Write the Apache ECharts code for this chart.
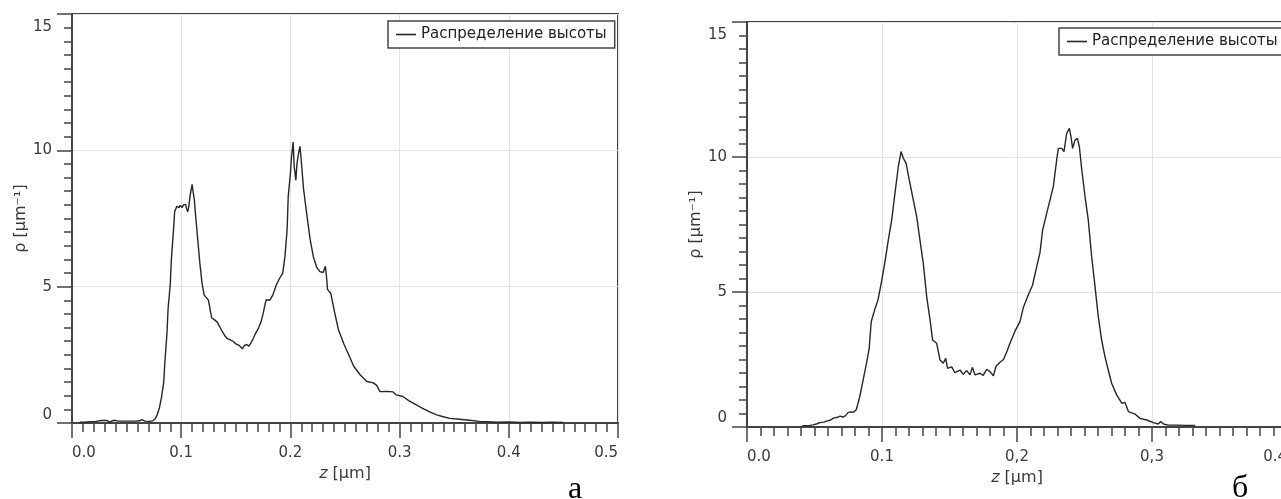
<!DOCTYPE html>
<html>
<head>
<meta charset="utf-8">
<script src="https://cdn.jsdelivr.net/npm/echarts@6/dist/echarts.min.js"></script>
<style>
html,body{margin:0;padding:0;background:#fff;}
#chart{width:1281px;height:499px;}
</style>
</head>
<body>
<div id="chart"></div>
<script>
// ---- data (a): height distribution, left panel ----
const zLeft = [0.007,0.012,0.017,0.022,0.027,0.032,0.035,0.038,0.043,0.048,0.053,0.058,0.062,0.064,0.067,0.071,0.074,0.076,0.078,0.080,0.082,0.084,0.085,0.087,0.088,0.090,0.091,0.093,0.094,0.096,0.098,0.099,0.101,0.102,0.104,0.105,0.106,0.107,0.108,0.110,0.111,0.112,0.113,0.115,0.117,0.119,0.121,0.123,0.125,0.127,0.128,0.130,0.133,0.135,0.137,0.140,0.142,0.145,0.148,0.150,0.153,0.156,0.158,0.160,0.162,0.164,0.166,0.168,0.171,0.173,0.175,0.177,0.178,0.181,0.184,0.187,0.190,0.193,0.195,0.197,0.198,0.200,0.201,0.2025,0.2035,0.205,0.206,0.2075,0.2088,0.210,0.212,0.215,0.218,0.221,0.224,0.227,0.230,0.232,0.233,0.234,0.237,0.240,0.244,0.249,0.254,0.258,0.264,0.270,0.276,0.279,0.282,0.288,0.294,0.297,0.303,0.309,0.315,0.321,0.328,0.334,0.340,0.346,0.355,0.364,0.373,0.380,0.390,0.400,0.410,0.420,0.430,0.440,0.450];
const rhoLeft = [0.03,0.03,0.05,0.06,0.09,0.09,0.04,0.10,0.07,0.07,0.07,0.07,0.08,0.12,0.07,0.06,0.08,0.15,0.30,0.55,0.95,1.5,2.2,3.3,4.2,5.1,6.0,7.1,7.75,7.95,7.9,7.98,7.9,8.0,8.02,7.85,7.75,7.95,8.3,8.75,8.45,8.2,7.7,6.8,5.9,5.15,4.7,4.6,4.5,4.05,3.85,3.8,3.7,3.55,3.4,3.2,3.1,3.05,2.98,2.9,2.85,2.72,2.85,2.88,2.82,2.95,3.1,3.28,3.5,3.7,4.0,4.4,4.52,4.5,4.7,5.05,5.3,5.5,6.1,7.1,8.3,9.15,9.75,10.3,9.4,8.9,9.5,9.9,10.15,9.6,8.6,7.65,6.75,6.1,5.72,5.55,5.52,5.75,5.4,4.9,4.75,4.15,3.42,2.9,2.45,2.08,1.76,1.52,1.47,1.38,1.15,1.16,1.14,1.03,0.97,0.80,0.67,0.54,0.40,0.30,0.23,0.17,0.14,0.10,0.06,0.05,0.03,0.04,0.02,0.03,0.02,0.03,0.02];

// ---- data (б): height distribution, right panel ----
const zRight = [0.040,0.042,0.046,0.049,0.052,0.054,0.057,0.059,0.062,0.064,0.067,0.069,0.071,0.073,0.075,0.077,0.079,0.081,0.0835,0.086,0.0885,0.0905,0.092,0.0945,0.097,0.0995,0.102,0.1047,0.1072,0.1096,0.1121,0.1141,0.1158,0.1178,0.1202,0.1232,0.1257,0.1281,0.1306,0.1331,0.1356,0.1375,0.1405,0.143,0.1454,0.1472,0.1486,0.1516,0.154,0.1578,0.1602,0.1627,0.1652,0.1669,0.1689,0.1726,0.175,0.1775,0.18,0.1825,0.1845,0.1874,0.19,0.1925,0.1948,0.1985,0.2022,0.2047,0.2084,0.2115,0.2146,0.217,0.219,0.222,0.2244,0.2269,0.2294,0.2306,0.2331,0.2348,0.2368,0.2388,0.24,0.2412,0.243,0.2447,0.2462,0.248,0.2504,0.2528,0.2553,0.2578,0.2602,0.2627,0.2652,0.2676,0.2701,0.2738,0.2776,0.28,0.2825,0.2874,0.2911,0.2961,0.301,0.3047,0.3064,0.3089,0.312,0.318,0.325,0.332];
const rhoRight = [0.0,0.05,0.05,0.08,0.12,0.16,0.18,0.22,0.26,0.33,0.36,0.40,0.37,0.42,0.54,0.56,0.55,0.65,1.12,1.74,2.36,2.9,3.9,4.33,4.7,5.35,6.06,6.93,7.67,8.66,9.64,10.2,9.95,9.77,9.15,8.4,7.79,6.93,6.06,4.83,3.96,3.22,3.1,2.48,2.36,2.54,2.17,2.23,2.01,2.11,1.95,2.09,1.93,2.21,1.93,1.99,1.91,2.14,2.05,1.9,2.25,2.4,2.5,2.8,3.1,3.55,3.9,4.43,4.9,5.25,5.94,6.45,7.3,7.91,8.4,8.9,9.89,10.32,10.32,10.2,10.88,11.06,10.75,10.32,10.63,10.69,10.38,9.52,8.53,7.67,6.31,5.2,4.09,3.22,2.6,2.11,1.62,1.19,0.88,0.91,0.57,0.48,0.32,0.26,0.16,0.11,0.2,0.1,0.07,0.07,0.06,0.06];

// ---- tick labels ----
const xTicksLeft = ['0.0','0.1','0.2','0.3','0.4','0.5'];
const xTicksRight = ['0.0','0.1','0,2','0,3','0.4'];
const seriesName = 'Распределение высоты';
const yAxisName = 'ρ [μm⁻¹]';
const panelLabels = ['а','б'];

const FONT = 'DejaVu Sans';
const AX = '#444';
const TXT = '#3a3a3a';

function zip(a, b){ return a.map((v,i)=>[v,b[i]]); }

function xAxisFor(gridIndex, max, labels, gap){
  return {
    type:'value', gridIndex, min:0, max, interval:0.1,
    axisLine:{show:true, onZero:false, lineStyle:{color:AX, width:2}},
    axisTick:{show:true, length:15, lineStyle:{color:AX, width:1.5}},
    minorTick:{show:true, splitNumber:10, length:9, lineStyle:{color:AX, width:1.5}},
    splitLine:{show:true, lineStyle:{color:'#e3e3e3', width:1}},
    axisLabel:{
      margin:23, color:TXT, fontFamily:FONT, fontSize:15,
      alignMinLabel:'left', alignMaxLabel:'right',
      formatter:(v)=>labels[Math.round(v*10)]
    },
    name:'{i|z} [μm]', nameLocation:'middle', nameGap:gap,
    nameTextStyle:{color:TXT, fontFamily:FONT, fontSize:16, verticalAlign:'top',
      rich:{i:{fontStyle:'italic', fontFamily:FONT, fontSize:16, color:TXT}}}
  };
}
function yAxisFor(gridIndex, loPad, hiPad){
  return {
    type:'value', gridIndex, min:0, max:15, interval:5,
    axisLine:{show:true, onZero:false, lineStyle:{color:AX, width:2}},
    axisTick:{show:true, length:15, lineStyle:{color:AX, width:1.5}},
    minorTick:{show:true, splitNumber:10, length:8, lineStyle:{color:AX, width:1.5}},
    splitLine:{show:true, lineStyle:{color:'#e3e3e3', width:1}},
    axisLabel:{
      margin:20, color:TXT, fontFamily:FONT, fontSize:15,
      formatter:(v)=> v===0 ? '{lo|0}' : (v===15 ? '{hi|15}' : String(v)),
      rich:{
        lo:{padding:[0,0,loPad,0], fontFamily:FONT, fontSize:15, color:TXT},
        hi:{padding:[hiPad,0,0,0], fontFamily:FONT, fontSize:15, color:TXT}
      }
    },
    name:yAxisName, nameLocation:'middle', nameGap:43,
    nameTextStyle:{color:TXT, fontFamily:FONT, fontSize:16}
  };
}
function legendFor(left, top){
  return {
    left, top, orient:'horizontal',
    data:[{name:seriesName, icon:'rect'}],
    itemWidth:20, itemHeight:1.6, itemGap:0,
    padding:[6,8],
    borderColor:'#444', borderWidth:1.5, borderRadius:0,
    backgroundColor:'#fff',
    textStyle:{color:'#222', fontFamily:FONT, fontSize:15},
    selectedMode:false
  };
}

const chart = echarts.init(document.getElementById('chart'), null, {renderer:'canvas'});
chart.setOption({
  animation:false,
  backgroundColor:'#fff',
  grid:[
    {left:72, top:14, width:546, height:409, show:true, borderColor:AX, borderWidth:2, backgroundColor:'transparent', outerBoundsMode:'none', containLabel:false},
    {left:747, top:22, width:540, height:405, show:true, borderColor:AX, borderWidth:2, backgroundColor:'transparent', outerBoundsMode:'none', containLabel:false}
  ],
  xAxis:[ xAxisFor(0, 0.5, xTicksLeft, 43), xAxisFor(1, 0.4, xTicksRight, 37) ],
  yAxis:[ yAxisFor(0, 16, 26), yAxisFor(1, 18, 26) ],
  legend:[ legendFor(388, 21), legendFor(1059, 28) ],
  series:[
    {type:'line', name:seriesName, xAxisIndex:0, yAxisIndex:0, data:zip(zLeft, rhoLeft),
      symbol:'none', lineStyle:{color:'#262626', width:1.4}, itemStyle:{color:'#262626'}},
    {type:'line', name:seriesName, xAxisIndex:1, yAxisIndex:1, data:zip(zRight, rhoRight),
      symbol:'none', lineStyle:{color:'#262626', width:1.4}, itemStyle:{color:'#262626'}}
  ],
  graphic:[
    {type:'text', left:568, top:474, style:{text:panelLabels[0], font:'32px "Liberation Serif"', fill:'#000'}},
    {type:'text', left:1232, top:473, style:{text:panelLabels[1], font:'32px "Liberation Serif"', fill:'#000'}}
  ]
});
</script>
</body>
</html>
